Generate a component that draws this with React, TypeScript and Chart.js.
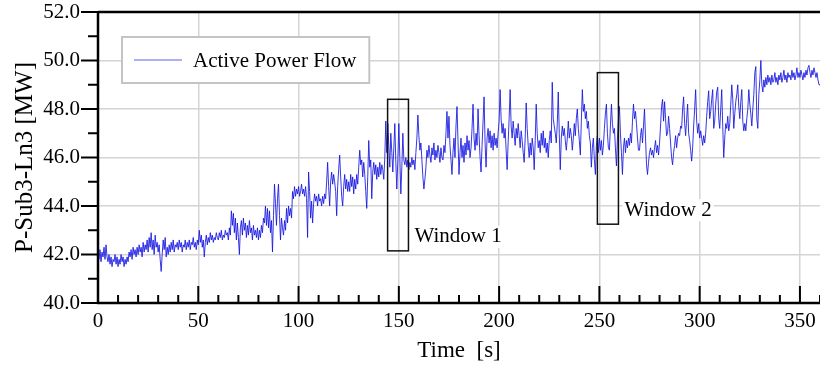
import { useEffect, useRef } from 'react';
import { Chart, registerables } from 'chart.js';

Chart.register(...registerables);

const FONT = "'Liberation Serif', 'Times New Roman', serif";

// Sampling interval of the recorded series (seconds)
const SAMPLE_STEP_S = 0.5;

// Active power flow P-Sub3-Ln3 [MW], one value every 0.5 s
const power000to060 = [
  42.0, 41.8, 42.2, 41.7, 42.1, 41.9, 42.3, 41.8, 42.4, 41.9,
  41.7, 42.0, 41.6, 41.9, 41.5, 41.8, 41.7, 42.0, 41.6, 41.9,
  41.5, 41.8, 41.6, 42.0, 41.7, 41.9, 41.5, 41.8, 41.6, 41.9,
  41.7, 42.1, 41.9, 42.2, 41.8, 42.3, 42.0, 42.2, 41.9, 42.3,
  42.0, 42.4, 42.1, 42.3, 41.9, 42.5, 42.1, 42.4, 42.2, 42.6,
  42.1, 42.7, 42.3, 42.9, 42.2, 42.6, 42.0, 42.8, 42.3, 42.5,
  42.1, 42.4, 41.8, 41.3, 42.0, 42.6, 42.2, 42.7, 41.9, 42.3,
  42.0, 42.4, 42.1, 42.5, 42.2, 42.6, 42.1, 42.4, 42.3, 42.5,
  42.2, 42.6, 42.3, 42.5, 42.1, 42.4, 42.3, 42.6, 42.2, 42.5,
  42.3, 42.6, 42.2, 42.5, 42.4, 42.7, 42.3, 42.5, 42.2, 42.6,
  42.4, 43.0, 42.5, 42.8, 42.3, 42.6, 41.9, 42.5, 42.8, 42.4,
  42.7, 42.5, 42.9, 42.6, 42.8, 42.5, 42.7, 42.6, 42.9, 42.7,
];
const power060to120 = [
  42.6, 42.9, 42.7, 43.0, 42.6, 42.8, 42.7, 43.0, 42.8, 42.9,
  42.6, 43.1, 42.8, 43.8, 43.2, 43.7, 42.9, 43.5, 42.6, 43.3,
  42.7, 42.0, 43.1, 43.4, 42.8, 43.5, 43.0, 43.3, 42.7, 43.2,
  42.8, 43.4, 42.9, 43.1, 42.6, 43.2, 42.8, 43.0, 42.7, 43.1,
  42.6, 43.0, 42.7, 43.2, 42.9, 43.5, 43.3, 44.0, 43.2, 43.9,
  43.1, 43.8, 42.9, 43.4, 42.1, 43.6, 44.9, 44.1, 43.2, 44.3,
  44.9, 43.6, 42.6, 43.5, 43.1, 42.8, 43.4, 43.0, 43.9, 43.3,
  44.0, 43.6, 43.9, 43.5, 44.6, 44.3, 44.8, 44.4, 44.7, 44.5,
  44.8, 44.4, 44.6, 44.9, 44.5, 44.7, 44.4, 44.8, 44.3, 42.7,
  45.4, 44.6, 43.5, 44.2, 43.3, 44.1, 44.5, 44.2, 44.4, 44.0,
  44.5, 44.2, 44.3, 44.0, 44.4, 44.1, 44.5, 44.3, 45.0, 45.8,
  44.8, 44.0, 45.0, 45.4, 44.9, 45.3, 45.0, 44.6, 43.6, 44.8,
];
const power120to180 = [
  45.5, 46.1, 45.2, 44.4, 44.0, 44.8, 45.3, 44.7, 45.1, 44.6,
  45.0, 44.6, 45.3, 44.8, 45.2, 44.5, 45.1, 44.7, 45.3, 44.9,
  45.6, 46.3, 45.7, 45.9, 45.2, 45.8, 45.3, 44.6, 43.9, 45.2,
  46.7, 45.6, 45.9, 44.3, 45.4, 45.8, 45.3, 45.7, 45.1, 45.6,
  45.2, 45.8, 45.3, 45.7, 45.5, 45.1, 46.0, 47.5, 46.2, 47.4,
  46.5, 45.6, 47.0, 46.2, 45.4, 46.4, 47.4, 45.8, 44.7, 45.9,
  47.4, 46.0, 44.5, 45.6, 47.0, 45.9, 45.7, 46.0, 45.6, 45.9,
  45.5, 45.8, 45.6, 46.0, 45.7, 45.9, 45.5, 46.2, 46.8, 47.75,
  46.9, 46.3, 46.6, 45.9, 45.2, 44.7, 45.1, 45.6, 46.3, 46.0,
  46.5, 46.1, 45.8, 46.4, 46.1, 46.6, 45.9, 46.3, 46.0, 46.5,
  46.2, 45.8, 46.4, 46.0, 45.9, 46.5, 46.2, 47.0, 47.9, 46.8,
  47.7, 46.5, 45.9, 45.3, 46.2, 46.8, 46.0, 47.3, 48.1, 46.7,
];
const power180to240 = [
  45.3, 46.2, 46.8, 46.0, 46.5, 45.8, 46.6, 46.1, 46.9, 46.3,
  46.7, 46.0, 46.4, 47.2, 48.2, 46.8, 46.3, 47.0, 46.5, 48.0,
  46.9, 46.0, 45.4, 46.5, 47.5, 48.5, 46.6, 45.6, 46.8, 47.2,
  46.6, 47.1, 46.4, 46.9, 46.3, 47.0, 46.5, 46.8, 46.4, 47.0,
  47.5, 48.8, 47.6, 47.0, 47.4, 46.8, 47.2, 46.3, 45.5, 46.6,
  47.6, 48.8, 47.3, 46.8, 47.5, 47.0, 46.5, 47.2, 46.8, 47.4,
  46.9, 46.4, 47.1, 46.7, 46.2, 45.8, 46.8, 48.25, 47.2, 46.5,
  46.0, 46.6, 46.1, 46.8, 46.4, 45.5, 46.7, 48.2, 47.0, 46.4,
  46.7, 46.2, 47.0, 46.5, 47.1, 46.4, 46.8, 46.2, 46.6, 46.0,
  46.7, 47.1, 46.6, 49.1, 47.6, 47.3, 47.0, 46.6, 47.4, 48.7,
  47.0, 45.5, 46.8, 47.3, 46.9, 47.2, 46.7, 46.3, 46.8, 47.5,
  46.8, 47.2, 46.9, 46.3, 46.8, 47.4, 46.9, 47.6, 48.0, 47.2,
];
const power240to300 = [
  46.7, 46.1, 47.5, 48.8, 47.9, 48.2, 47.6, 47.9, 47.2, 47.5,
  46.9, 46.6, 45.6, 46.4, 46.8, 45.9, 45.3, 46.5, 46.9, 46.2,
  46.8, 46.3, 46.7, 46.1, 46.5, 47.2, 47.8, 48.2, 47.0, 46.4,
  46.3, 47.3, 48.2, 47.4, 47.0, 47.2, 46.4, 45.65, 46.8, 47.6,
  48.1, 47.0, 46.2, 45.3, 46.4, 46.8, 46.2, 46.7, 46.4, 46.8,
  46.5, 47.0, 46.6, 47.5, 48.2, 47.6, 47.9, 47.4, 46.8, 46.3,
  46.3, 46.9, 47.2, 46.6, 47.3, 48.0, 46.8, 45.7, 45.3, 45.8,
  46.2, 46.4, 46.1, 46.3, 46.0, 46.4, 46.7, 46.2, 46.5, 46.1,
  46.6, 47.3, 48.1, 48.4, 47.5, 48.3, 47.6, 46.9, 47.0, 47.7,
  47.2, 46.6, 46.0, 45.7, 46.2, 46.5, 46.9, 46.4, 46.8, 47.0,
  46.9, 47.3, 47.2, 48.0, 48.5, 47.4, 46.9, 47.6, 48.2, 47.0,
  46.7, 46.3, 45.85, 46.4, 47.3, 48.0, 48.8, 47.5, 47.0, 47.4,
];
const power300to360 = [
  46.8, 47.1, 46.8, 46.5, 46.9, 46.6, 47.0, 47.7, 48.3, 48.75,
  47.6, 47.9, 48.4, 48.8, 47.2, 47.5, 48.2, 48.7, 48.9, 47.6,
  47.2, 48.0, 48.8, 47.3, 46.0, 46.8, 47.4, 47.2, 47.7, 47.1,
  47.4, 48.2, 49.0, 48.4, 47.2, 47.8, 48.3, 48.6, 49.0, 48.1,
  47.6, 48.3, 48.8, 47.5, 47.1, 47.4, 47.1, 47.6, 48.0, 48.8,
  48.2, 47.8, 47.3, 48.0, 48.6, 49.5, 49.75, 47.6, 47.2, 48.6,
  49.2, 50.0, 49.0, 48.7, 49.2, 48.9, 49.3, 49.0, 49.4, 49.1,
  49.3, 49.0, 49.4, 49.1, 49.2, 49.5, 49.1, 49.3, 49.0, 49.4,
  49.2, 49.5, 49.1, 49.3, 49.6, 49.2, 49.4, 49.1, 49.5, 49.3,
  49.4, 49.2, 49.6, 49.3, 49.5, 49.2, 49.4, 49.7, 49.3, 49.5,
  49.3, 49.6, 49.4, 49.2, 49.5, 49.3, 49.6, 49.4, 49.7, 49.8,
  49.5, 49.3, 49.6, 49.4, 49.7, 49.5, 49.3, 49.5, 49.2, 49.0,
  49.0,
];

const seriesLabel = 'Active Power Flow';
const xTitle = 'Time  [s]';
const yTitle = 'P-Sub3-Ln3 [MW]';

// Axis ranges / tick spacing
const X_MIN = 0;
const X_MAX = 360;
const X_MAJOR = 50;
const X_MINOR = 10;
const Y_MIN = 40;
const Y_MAX = 52;
const Y_MAJOR = 2;
const Y_MINOR = 1;

// Analysis windows (time range and value range)
const windowLabels = ['Window 1', 'Window 2'];
const windowStart = [144.4, 249.0];
const windowEnd = [154.8, 259.5];
const windowTop = [48.4, 49.5];
const windowBottom = [42.15, 43.25];

const powerValues = [
  ...power000to060,
  ...power060to120,
  ...power120to180,
  ...power180to240,
  ...power240to300,
  ...power300to360,
];
const points = powerValues.map((y, i) => ({ x: i * SAMPLE_STEP_S, y }));

const LINE_COLOR = 'rgba(20, 20, 225, 0.85)';

const decorPlugin = {
  id: 'decor',
  afterDatasetsDraw(chart: any) {
    const { ctx, chartArea: a, scales } = chart;
    const xs = scales.x;
    const ys = scales.y;
    const line = (x1: number, y1: number, x2: number, y2: number) => {
      ctx.beginPath();
      ctx.moveTo(x1, y1);
      ctx.lineTo(x2, y2);
      ctx.stroke();
    };
    ctx.save();

    // analysis windows
    ctx.font = `21px ${FONT}`;
    windowLabels.forEach((lab, i) => {
      const x1 = xs.getPixelForValue(windowStart[i]);
      const x2 = xs.getPixelForValue(windowEnd[i]);
      const y1 = ys.getPixelForValue(windowTop[i]);
      const y2 = ys.getPixelForValue(windowBottom[i]);
      ctx.strokeStyle = '#111';
      ctx.lineWidth = 1.5;
      ctx.strokeRect(x1, y1, x2 - x1, y2 - y1);
      const tw = ctx.measureText(lab).width;
      const tx = x2 + 6;
      const ty = y2 - 14;
      ctx.fillStyle = '#fff';
      ctx.fillRect(tx - 2, ty - 11, tw + 4, 22);
      ctx.fillStyle = '#000';
      ctx.textAlign = 'left';
      ctx.textBaseline = 'middle';
      ctx.fillText(lab, tx, ty);
    });

    // legend
    const lx = a.left + 24;
    const ly = a.top + 25;
    const tw = ctx.measureText(seriesLabel).width;
    const lw = 71 + tw + 13;
    const lh = 46;
    ctx.fillStyle = '#fff';
    ctx.fillRect(lx, ly, lw, lh);
    ctx.strokeStyle = '#c4c4c4';
    ctx.lineWidth = 2;
    ctx.strokeRect(lx, ly, lw, lh);
    ctx.strokeStyle = LINE_COLOR;
    ctx.lineWidth = 0.8;
    line(lx + 12, ly + lh / 2, lx + 60, ly + lh / 2);
    ctx.fillStyle = '#000';
    ctx.textAlign = 'left';
    ctx.textBaseline = 'middle';
    ctx.fillText(seriesLabel, lx + 71, ly + lh / 2 + 1);

    // frame
    ctx.strokeStyle = '#000';
    ctx.lineWidth = 2.5;
    line(a.left, a.top, a.right, a.top);
    line(a.left, a.top - 1, a.left, a.bottom + 1);
    line(a.left - 1, a.bottom, a.right, a.bottom);

    // x ticks (inside, upward)
    ctx.lineWidth = 2;
    for (let v = X_MIN; v <= X_MAX; v += X_MINOR) {
      const px = xs.getPixelForValue(v);
      const len = v % X_MAJOR === 0 ? 17 : 8;
      line(px, a.bottom, px, a.bottom - len);
    }
    // y ticks (outside, leftward)
    for (let v = Y_MIN; v <= Y_MAX; v += Y_MINOR) {
      const py = ys.getPixelForValue(v);
      const len = v % Y_MAJOR === 0 ? 17 : 10;
      line(a.left - len, py, a.left, py);
    }
    ctx.restore();
  },
};

export default function App() {
  const canvasRef = useRef<HTMLCanvasElement | null>(null);

  useEffect(() => {
    document.body.style.margin = '0';
    const canvas = canvasRef.current;
    if (!canvas) return;
    const chart = new Chart(canvas, {
      type: 'line',
      data: {
        datasets: [
          {
            label: seriesLabel,
            data: points,
            borderColor: LINE_COLOR,
            borderWidth: 1,
            pointRadius: 0,
            tension: 0,
            fill: false,
          },
        ],
      },
      options: {
        animation: false,
        responsive: false,
        devicePixelRatio: 1,
        layout: { padding: { top: 12, right: 0, left: 0, bottom: 0 } },
        plugins: {
          legend: { display: false },
          tooltip: { enabled: false },
        },
        scales: {
          x: {
            type: 'linear',
            min: X_MIN,
            max: X_MAX,
            afterFit: (s: any) => {
              s.height = 66;
              s.paddingLeft = 0;
              s.paddingRight = 0;
            },
            border: { display: false },
            grid: { color: '#d4d4d4', lineWidth: 1.5, drawTicks: false },
            ticks: {
              stepSize: X_MAJOR,
              includeBounds: false,
              autoSkip: false,
              maxRotation: 0,
              padding: 6,
              color: '#000',
              font: { family: FONT, size: 21 },
            },
            title: {
              display: true,
              text: xTitle,
              color: '#000',
              font: { family: FONT, size: 23 },
              padding: { top: 0, bottom: 4 },
            },
          },
          y: {
            type: 'linear',
            min: Y_MIN,
            max: Y_MAX,
            afterFit: (s: any) => {
              s.width = 98;
              s.paddingTop = 0;
              s.paddingBottom = 0;
            },
            border: { display: false },
            grid: { color: '#d4d4d4', lineWidth: 1.5, drawTicks: false },
            ticks: {
              stepSize: Y_MAJOR,
              padding: 18,
              color: '#000',
              font: { family: FONT, size: 21 },
              callback: (v: any) => Number(v).toFixed(1),
            },
            title: {
              display: true,
              text: yTitle,
              color: '#000',
              font: { family: FONT, size: 25 },
              padding: { top: 10, bottom: 0 },
            },
          },
        },
      },
      plugins: [decorPlugin],
    });
    return () => chart.destroy();
  }, []);

  return (
    <div style={{ width: 820, height: 369, position: 'relative' }}>
      <canvas ref={canvasRef} width={820} height={369} style={{ display: 'block' }} />
    </div>
  );
}
